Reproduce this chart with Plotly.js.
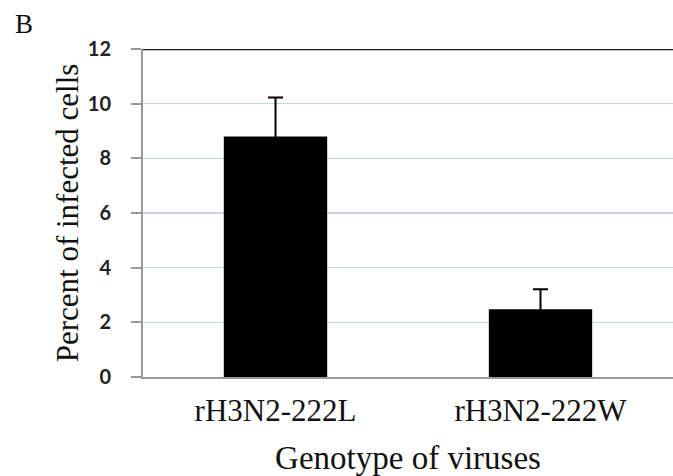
<!DOCTYPE html>
<html>
<head>
<meta charset="utf-8">
<script src="https://cdn.plot.ly/plotly-3.0.1.min.js"></script>
<style>html,body{margin:0;padding:0;background:#fff;}#chart{width:673px;height:476px;}</style>
</head>
<body>
<div id="chart"></div>
<script>
const categories = ["rH3N2-222L", "rH3N2-222W"];
const values = [8.8, 2.48];
const errors = [1.43, 0.73];
const yTicks = [0, 2, 4, 6, 8, 10, 12];

const trace = {
  type: "bar",
  x: categories,
  y: values,
  width: 0.39,
  marker: {color: "#000000", line: {width: 0}},
  error_y: {type: "data", array: errors, visible: true, color: "#000000", thickness: 2, width: 7.5},
  hoverinfo: "none"
};

const layout = {
  width: 673, height: 476,
  margin: {l: 143, r: 0, t: 49, b: 99},
  paper_bgcolor: "#ffffff", plot_bgcolor: "#ffffff",
  showlegend: false,
  xaxis: {
    type: "category",
    range: [-0.5, 1.5],
    showline: true, linecolor: "#999999", linewidth: 2,
    ticks: "", showgrid: false, zeroline: false,
    ticklabelstandoff: 5,
    tickfont: {family: "Liberation Serif, Times New Roman, serif", size: 31, color: "#111111"},
    title: {text: "Genotype of viruses", font: {family: "Liberation Serif, Times New Roman, serif", size: 33, color: "#111111"}, standoff: 19},
    automargin: false
  },
  yaxis: {
    range: [0, 12],
    tickvals: yTicks,
    ticktext: yTicks.map(String),
    showline: true, linecolor: "#999999", linewidth: 2,
    ticks: "outside", ticklen: 10, tickwidth: 2, tickcolor: "#999999",
    ticklabelstandoff: 16,
    showgrid: true, gridcolor: "#c9d3ea", gridwidth: 1.5,
    zeroline: false,
    tickfont: {family: "Lato, Open Sans, sans-serif", size: 20, weight: "bold", color: "#222222"},
    title: {text: "Percent of infected cells", font: {family: "Liberation Serif, Times New Roman, serif", size: 31, color: "#111111"}, standoff: 0},
    automargin: false
  },
  shapes: [
    {type: "line", xref: "paper", yref: "y", x0: 0, x1: 1, y0: 12, y1: 12, line: {color: "#1a1a1a", width: 2.5}}
  ],
  annotations: [
    {text: "B", xref: "paper", yref: "paper", x: -0.245, y: 1.0, xanchor: "left", yanchor: "bottom", yshift: 8, showarrow: false,
     font: {family: "Liberation Serif, Times New Roman, serif", size: 27, color: "#111111"}}
  ]
};

Plotly.newPlot("chart", [trace], layout, {displayModeBar: false, staticPlot: true});
</script>
</body>
</html>
